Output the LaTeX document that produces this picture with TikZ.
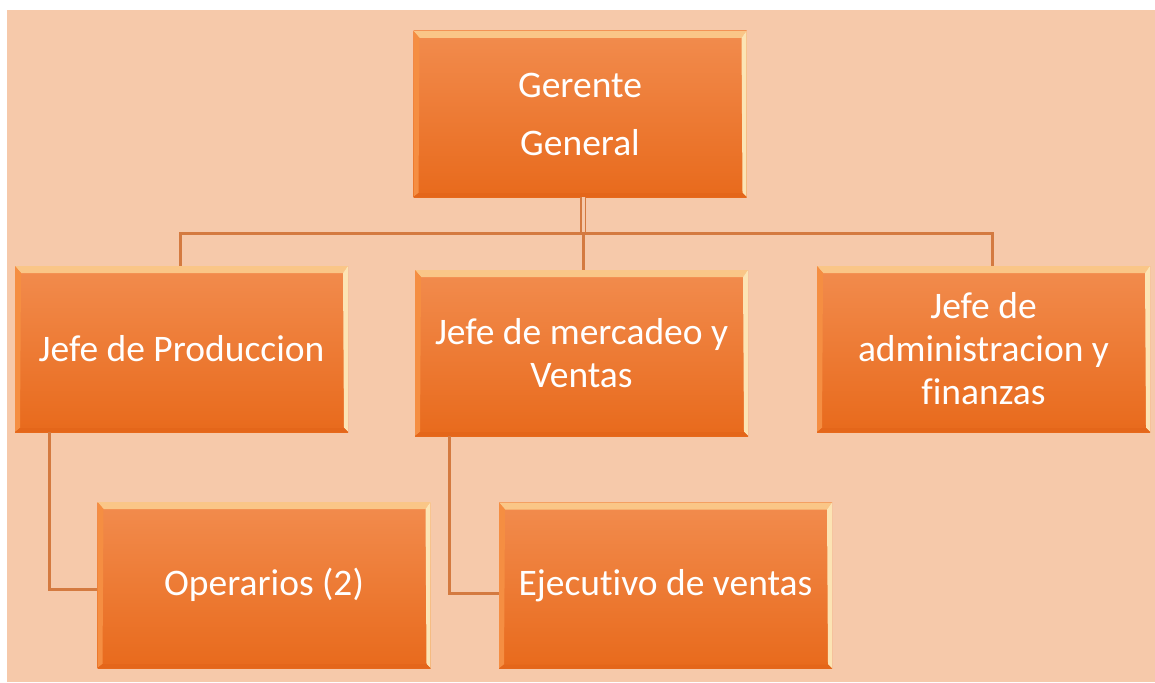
\documentclass[tikz,border=0pt]{standalone}
\usepackage{fontspec}
\setmainfont{Carlito}[Ligatures=NoCommon]
\definecolor{bgpeach}{RGB}{246,201,170}
\definecolor{boxtop}{RGB}{242,140,78}
\definecolor{boxbot}{RGB}{232,106,28}
\definecolor{beveltop}{RGB}{250,198,135}
\definecolor{bevelright}{RGB}{252,228,180}
\definecolor{bevelleft}{RGB}{245,142,66}
\definecolor{bevelbot}{RGB}{228,102,26}
\definecolor{connc}{RGB}{212,122,64}
\tikzset{
  orgbox/.style={rectangle, minimum width=333pt, minimum height=166pt, inner sep=0pt,
    top color=boxtop, bottom color=boxbot, draw=none, text=white, align=center,
    font=\fontsize{37.5}{43}\selectfont,
    path picture={
      \fill[beveltop] (path picture bounding box.north west) -- (path picture bounding box.north east)
        -- ([xshift=-5pt,yshift=-7pt]path picture bounding box.north east)
        -- ([xshift=6pt,yshift=-7pt]path picture bounding box.north west) -- cycle;
      \fill[bevelright] (path picture bounding box.north east) -- (path picture bounding box.south east)
        -- ([xshift=-4pt,yshift=4pt]path picture bounding box.south east)
        -- ([xshift=-5pt,yshift=-7pt]path picture bounding box.north east) -- cycle;
      \fill[bevelleft] (path picture bounding box.north west) -- (path picture bounding box.south west)
        -- ([xshift=5pt,yshift=4pt]path picture bounding box.south west)
        -- ([xshift=6pt,yshift=-7pt]path picture bounding box.north west) -- cycle;
      \fill[bevelbot] (path picture bounding box.south west) -- (path picture bounding box.south east)
        -- ([xshift=-4pt,yshift=4pt]path picture bounding box.south east)
        -- ([xshift=5pt,yshift=4pt]path picture bounding box.south west) -- cycle;
    }},
  conn/.style={draw=connc, line width=3pt},
}
\begin{document}
\begin{tikzpicture}[x=1pt,y=-1pt]
\useasboundingbox (0,0) rectangle (1155,682);
\fill[white] (0,0) rectangle (1155,682);
\fill[bgpeach] (7,10) rectangle (1155,682);

\coordinate (hub) at (583,233);
\node[orgbox] (G) at (580,114) {Gerente\\[15pt]General};
\node[orgbox] (P) at (181.5,349) {Jefe de Produccion};
\node[orgbox] (M) at (581.5,353) {Jefe de mercadeo y\\Ventas};
\node[orgbox] (A) at (983.5,349) {Jefe de\\administracion y\\finanzas};
\node[orgbox] (O) at (264,585) {Operarios (2)};
\node[orgbox] (E) at (665.5,585.5) {Ejecutivo de ventas};

\draw[draw=connc, line width=1.8pt, double=bgpeach, double distance=3pt] ([xshift=3pt]G.south) -- (hub);
\draw[conn] ([xshift=-1.5pt]P.north) |- (hub) -| ([xshift=8.5pt]A.north);
\draw[conn] (hub) -- (hub |- M.north);
\draw[conn] ([xshift=-132.5pt]P.south) |- ([yshift=-4pt]O.west);
\draw[conn] ([xshift=-132.5pt]M.south) |- ([yshift=-7.5pt]E.west);
\end{tikzpicture}
\end{document}
